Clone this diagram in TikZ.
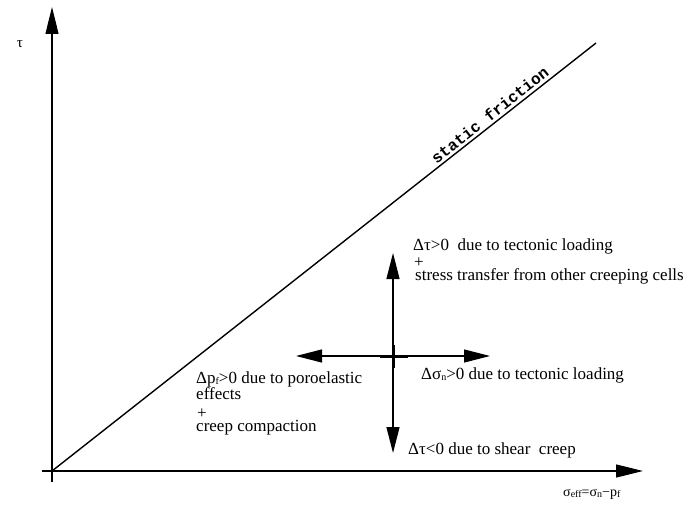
\documentclass[tikz,border=0pt]{standalone}
\usepackage{fontspec}
\setmainfont{Liberation Serif}
\newfontfamily\monofam{Liberation Mono}
\usetikzlibrary{arrows.meta}
\newcommand\lowsub[1]{\raisebox{-0.25ex}{\fontsize{10}{10}\selectfont #1}}
\tikzset{
  axisline/.style={line width=1.2pt,-{Triangle[length=27pt,width=13pt]}},
  crossarrow/.style={line width=1.3pt,-{Triangle[length=26pt,width=13pt]}},
  lbl/.style={anchor=base west,inner sep=0pt,font=\fontsize{17}{17}\selectfont},
}
\begin{document}
\begin{tikzpicture}[x=1pt,y=-1pt]
\useasboundingbox (0,0) rectangle (684,518);
% axes
\coordinate (ybot) at (52,482);
\coordinate (ytop) at (52,7);
\coordinate (xleft) at (42,471);
\coordinate (xright) at (643,471);
\coordinate (o) at (52,471);
\coordinate (fe) at (596,43);
\draw[axisline] (ybot) -- (ytop);
\draw[axisline] (xleft) -- (xright);
% static friction line
\draw[line width=1.4pt] (o) -- (fe)
  node[pos=0.815,sloped,above,inner sep=2.5pt,font=\monofam\bfseries\fontsize{16}{16}\selectfont] (sf) {static friction};
% cross
\coordinate (c) at (393,356);
\coordinate (ct) at (393,253);
\coordinate (cb) at (393,453);
\coordinate (cl) at (296,356);
\coordinate (cr) at (490,356);
\draw[crossarrow] (c) -- (ct);
\draw[crossarrow] (c) -- (cb);
\draw[crossarrow] (c) -- (cl);
\draw[crossarrow] (c) -- (cr);
\draw[line width=3pt] (380,356) -- (408,356);
\draw[line width=3pt] (393,345) -- (393,368);
% labels
\node[font=\fontsize{15}{15}\selectfont,inner sep=0pt] (tau) at (20,44) {τ};
\node[lbl] (u1) at (413,251) {Δτ>0\ \ due to tectonic loading};
\node[lbl] (u2) at (414,267) {+};
\node[lbl] (u3) at (415,280) {stress transfer from other creeping cells};
\node[lbl] (l1) at (196,383) {Δp\lowsub{f}>0 due to poroelastic};
\node[lbl] (l2) at (196,399) {effects};
\node[lbl] (l3) at (197,418) {+};
\node[lbl] (l4) at (196,431) {creep compaction};
\node[lbl] (r1) at (421,379) {Δσ\lowsub{n}>0 due to tectonic loading};
\node[lbl] (b1) at (408,454) {Δτ<0 due to shear\ \ creep};
\node[anchor=base west,inner sep=0pt,font=\fontsize{14}{14}\selectfont] (sx) at (563,496) {σ\lowsub{eff}=σ\lowsub{n}−p\lowsub{f}};
\end{tikzpicture}
\end{document}
